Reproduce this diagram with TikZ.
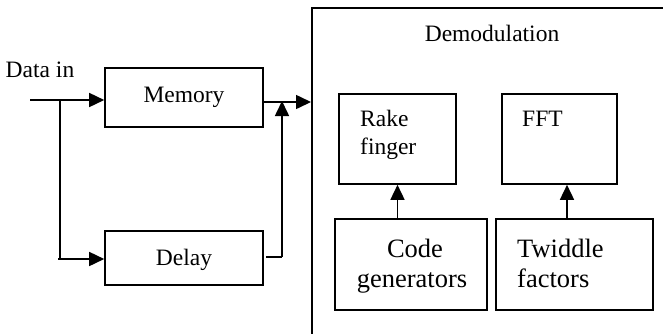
\documentclass[tikz,border=0pt]{standalone}
\usepackage{fontspec}
\setmainfont{Liberation Serif}
\usetikzlibrary{arrows.meta}

\tikzset{
  block/.style={draw, line width=1.6pt, rectangle, inner sep=0pt},
  wire/.style={line width=1.6pt},
  flow/.style={wire, -{Triangle[length=15pt,width=14pt]}},
  txt/.style={inner sep=0pt, font=\fontsize{23.5}{28}\selectfont},
  bigtxt/.style={inner sep=0pt, font=\fontsize{26.5}{30}\selectfont},
}

\begin{document}
\begin{tikzpicture}[x=1pt, y=-1pt]
  \useasboundingbox (0,0) rectangle (663,333);
  \clip (0,0) rectangle (663,333);

  % input side
  \node[txt, anchor=base] (datain) at (40,77) {Data in};
  \node[block, minimum width=158pt, minimum height=59pt] (memory) at (184,97.5) {};
  \node[txt, anchor=base] (memlbl) at (184,102) {Memory};
  \node[block, minimum width=158pt, minimum height=54pt] (delay) at (184,258) {};
  \node[txt, anchor=base] (dellbl) at (184,265) {Delay};

  \coordinate (in) at (30,100);
  \coordinate (split) at (60,100);
  \coordinate (splitlow) at (58,259);
  \coordinate (join) at (282,102);
  \coordinate (delout) at (266,257);

  % demodulation block (extends past the page edge)
  \node[block, anchor=north west, minimum width=420pt, minimum height=400pt] (demod) at (311,7) {};
  \node[txt, anchor=base] (demodlbl) at (492,41) {Demodulation};

  \node[block, minimum width=117pt, minimum height=90pt] (rake) at (397.5,139) {};
  \node[txt, anchor=base west] (rake1) at (360,126) {Rake};
  \node[txt, anchor=base west] (rake2) at (360,154) {finger};

  \node[block, minimum width=115pt, minimum height=90pt] (fft) at (559.5,139) {};
  \node[txt, anchor=base west] (fftlbl) at (522,126) {FFT};

  \node[block, minimum width=152pt, minimum height=91pt] (code) at (411,264.5) {};
  \node[bigtxt, anchor=base] (code1) at (415,257) {Code};
  \node[bigtxt, anchor=base] (code2) at (412,287) {generators};

  \node[block, minimum width=157pt, minimum height=91pt] (twid) at (574.5,264.5) {};
  \node[bigtxt, anchor=base west] (twid1) at (517,257) {Twiddle};
  \node[bigtxt, anchor=base west] (twid2) at (517,287) {factors};

  % connections
  \draw[flow] (in) -- (in -| memory.west);
  \draw[wire] (split) -- (split |- splitlow);
  \draw[flow] (splitlow) -- (splitlow -| delay.west);
  \draw[flow] (memory.east |- join) -- (join -| demod.west);
  \draw[wire] (delout) -- (delout -| join);
  \draw[flow] (delout -| join) -- ([yshift=1pt]join);
  \draw[flow] (code.north -| rake) -- (rake.south);
  \draw[flow] (twid.north -| 567,0) -- (fft.south -| 567,0);
\end{tikzpicture}
\end{document}
